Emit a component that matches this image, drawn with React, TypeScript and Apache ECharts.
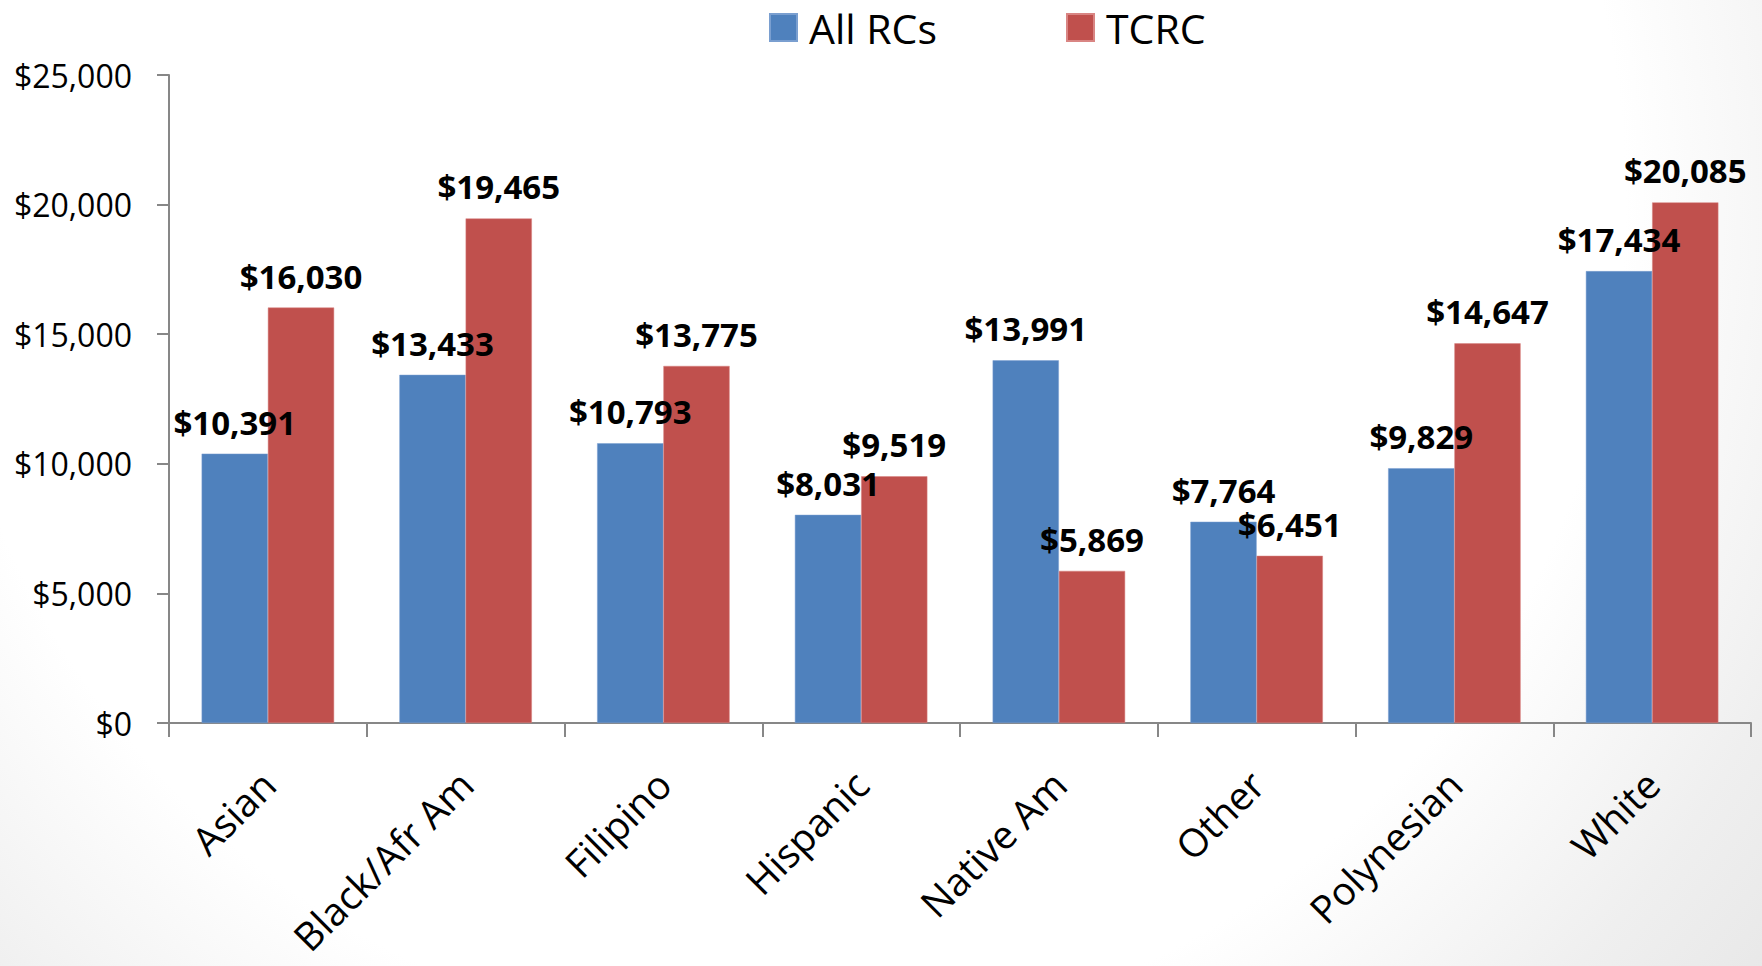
import React, { useEffect, useRef } from "react";
import * as echarts from "echarts";

const categories = ["Asian", "Black/Afr Am", "Filipino", "Hispanic", "Native Am", "Other", "Polynesian", "White"];
const allRCs = [10391, 13433, 10793, 8031, 13991, 7764, 9829, 17434];
const tcrc = [16030, 19465, 13775, 9519, 5869, 6451, 14647, 20085];
const yTicks = { min: 0, max: 25000, interval: 5000 };

const FONT = "'Open Sans', 'Noto Sans', sans-serif";
const fmt = (v: number) => "$" + Math.round(v).toLocaleString("en-US");

export default function App() {
  const ref = useRef<HTMLDivElement>(null);
  useEffect(() => {
    if (!ref.current) return;
    const chart = echarts.init(ref.current, null, { renderer: "svg" });
    const labelStyle = {
      show: true,
      position: "top",
      distance: 15,
      formatter: (p: any) => fmt(p.value),
      fontFamily: FONT,
      fontWeight: "bold",
      fontSize: 33,
      color: "#000",
    };
    const legendText = { fontFamily: FONT, fontSize: 41, color: "#000", padding: [0, 0, 0, 7] };
    chart.setOption({
      animation: false,
      backgroundColor: "transparent",
      graphic: [
        {
          type: "rect",
          z: -100,
          silent: true,
          shape: { x: 0, y: 0, width: 1762, height: 966 },
          style: {
            fill: new echarts.graphic.RadialGradient(
              780,
              200,
              1300,
              [
                { offset: 0, color: "#ffffff" },
                { offset: 0.65, color: "#ffffff" },
                { offset: 0.85, color: "#efefef" },
                { offset: 1, color: "#e6e6e6" },
              ],
              true
            ),
          },
        },
      ],
      legend: [
        {
          data: ["All RCs"],
          left: 769,
          top: 7,
          padding: 0,
          itemWidth: 27,
          itemHeight: 27,
          icon: "rect",
          textStyle: legendText,
        },
        {
          data: ["TCRC"],
          left: 1066,
          top: 7,
          padding: 0,
          itemWidth: 27,
          itemHeight: 27,
          icon: "rect",
          textStyle: legendText,
        },
      ],
      grid: { left: 169, right: 11, top: 75, bottom: 243, containLabel: false },
      xAxis: {
        type: "category",
        data: categories,
        boundaryGap: true,
        axisLine: { show: true, lineStyle: { color: "#878787", width: 2 } },
        axisTick: { show: true, length: 14, lineStyle: { color: "#878787", width: 2 } },
        axisLabel: {
          interval: 0,
          rotate: 45,
          margin: 54,
          fontFamily: FONT,
          fontSize: 39,
          color: "#000",
        },
      },
      yAxis: {
        type: "value",
        min: yTicks.min,
        max: yTicks.max,
        interval: yTicks.interval,
        splitLine: { show: false },
        axisLine: { show: true, lineStyle: { color: "#878787", width: 2 } },
        axisTick: { show: true, length: 12, lineStyle: { color: "#878787", width: 2 } },
        axisLabel: {
          margin: 37,
          formatter: (v: number) => fmt(v),
          fontFamily: FONT,
          fontSize: 32,
          color: "#000",
        },
      },
      series: [
        {
          name: "All RCs",
          type: "bar",
          data: allRCs,
          barGap: "0%",
          barCategoryGap: "33%",
          itemStyle: { color: "#4F81BD", borderColor: "#7a9fd0", borderWidth: 0.5 },
          label: labelStyle,
        },
        {
          name: "TCRC",
          type: "bar",
          data: tcrc,
          barGap: "0%",
          barCategoryGap: "33%",
          itemStyle: { color: "#C0504D", borderColor: "#d98583", borderWidth: 0.5 },
          label: labelStyle,
        },
      ],
    });
    return () => chart.dispose();
  }, []);
  return (
    <div
      ref={ref}
      style={{ position: "absolute", left: 0, top: 0, width: 1762, height: 966 }}
    />
  );
}
